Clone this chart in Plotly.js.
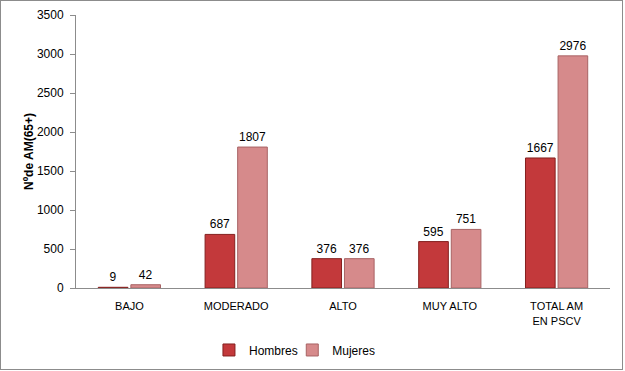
<!DOCTYPE html>
<html>
<head>
<meta charset="utf-8">
<script src="https://cdn.plot.ly/plotly-3.0.1.min.js"></script>
<style>
html,body{margin:0;padding:0;background:#fff;}
#chart{width:621px;height:368px;border:1px solid #8c8c8c;}
</style>
</head>
<body>
<div id="chart"></div>
<script>
const categories = ["BAJO", "MODERADO", "ALTO", "MUY ALTO", "TOTAL AM<br>EN PSCV"];
const hombres = [9, 687, 376, 595, 1667];
const mujeres = [42, 1807, 376, 751, 2976];
const seriesNames = ["Hombres", "Mujeres"];
const yTicks = [0, 500, 1000, 1500, 2000, 2500, 3000, 3500];

const font = "'Liberation Sans', Arial, sans-serif";

const traces = [
  {
    type: "bar", name: seriesNames[0], x: categories, y: hombres, legend: "legend",
    marker: {color: "#c3393b", line: {color: "#84201f", width: 1}},
    text: hombres.map(String), textposition: "outside", cliponaxis: false,
    textfont: {family: font, size: 12, color: "#000"}
  },
  {
    type: "bar", name: seriesNames[1], x: categories, y: mujeres, legend: "legend2",
    marker: {color: "#d68a8b", line: {color: "#a86364", width: 1}},
    text: mujeres.map(String), textposition: "outside", cliponaxis: false,
    textfont: {family: font, size: 12, color: "#000"}
  }
];

const legendBase = {orientation: "h", y: -0.227, yanchor: "middle", xanchor: "left",
                    font: {family: font, size: 12}, bgcolor: "rgba(0,0,0,0)"};

const layout = {
  width: 621, height: 368,
  margin: {l: 75, r: 12, t: 13.5, b: 81, autoexpand: false},
  paper_bgcolor: "#fff", plot_bgcolor: "#fff",
  font: {family: font, size: 11, color: "#000"},
  barmode: "group", bargap: 0.39, bargroupgap: 0.09,
  showlegend: true,
  legend: Object.assign({}, legendBase, {x: 0.249}),
  legend2: Object.assign({}, legendBase, {x: 0.405}),
  xaxis: {
    showline: true, linecolor: "#8c8c8c", linewidth: 1, ticks: "",
    ticklabelstandoff: 8,
    tickfont: {family: font, size: 11}, showgrid: false, zeroline: false
  },
  yaxis: {
    range: [0, 3500], tickvals: yTicks, ticktext: yTicks.map(String),
    showline: true, linecolor: "#8c8c8c", linewidth: 1,
    ticks: "outside", ticklen: 5, tickcolor: "#8c8c8c",
    ticklabelstandoff: 4,
    showgrid: false, zeroline: false,
    tickfont: {family: font, size: 12},
    title: {text: "<b>Nºde AM(65+)</b>", font: {family: font, size: 12}, standoff: 0}
  }
};

Plotly.newPlot("chart", traces, layout, {displayModeBar: false, staticPlot: true});
</script>
</body>
</html>
